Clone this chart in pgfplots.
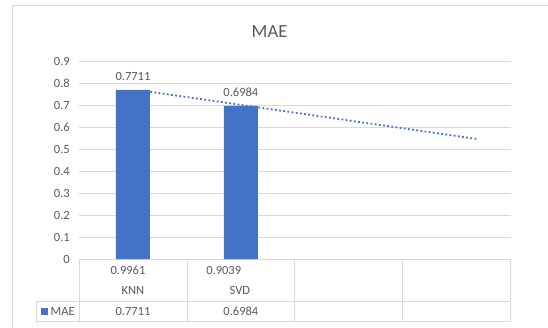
\documentclass[border=0pt]{standalone}
\usepackage{fontspec}
\setmainfont{Carlito}
\usepackage{pgfplots}
\pgfplotsset{compat=1.18}
\definecolor{barblue}{HTML}{4472C4}
\definecolor{txtgray}{HTML}{595959}
\definecolor{linegray}{HTML}{D9D9D9}
\newcommand{\tfont}{\fontsize{12.5bp}{15bp}\selectfont}
\begin{document}
\begin{tikzpicture}
\useasboundingbox (0,0) rectangle (548bp,-328bp);
\fill[white] (0,0) rectangle (548bp,-328bp);
% chart border
\draw[linegray, line width=1bp] (12bp,-340bp) -- (12bp,-5.7bp) -- (560bp,-5.7bp);
% title
\node[txtgray, font=\fontsize{18.5bp}{22bp}\selectfont] at (269.5bp,-31.7bp) {MAE};
\begin{axis}[
  at={(79bp,-259.2bp)}, anchor=south west,
  scale only axis, width=431.7bp, height=197.5bp,
  xmin=0.5, xmax=4.5, ymin=0, ymax=0.9,
  axis line style={draw=none},
  xtick=\empty,
  ytick={0,0.1,0.2,0.3,0.4,0.5,0.6,0.7,0.8,0.9},
  ymajorgrids, grid style={linegray, line width=1bp},
  major tick length=0pt,
  /pgf/number format/assume math mode=true,
  yticklabel style={font=\tfont, text=txtgray, anchor=east, inner sep=0pt, xshift=-9bp,
    /pgf/number format/fixed, /pgf/number format/precision=1},
  clip=false,
]
\addplot[ybar, bar width=34bp, fill=barblue, draw=none,
  nodes near coords,
  every node near coord/.append style={font=\tfont, text=txtgray, anchor=south, inner sep=0pt, yshift=9.5bp,
    /pgf/number format/fixed, /pgf/number format/precision=4}]
  coordinates {(1,0.7711) (2,0.6984)};
\addplot[barblue, line width=1.8bp, dash pattern=on 1.8bp off 2.4bp]
  coordinates {(1.16,0.763) (4.2,0.547)};
% data table text
\node[txtgray, font=\tfont] at (axis cs:1,0) [xshift=-5bp, yshift=-11.5bp] {0.9961};
\node[txtgray, font=\tfont] at (axis cs:1,0) [yshift=-31.5bp] {KNN};
\node[txtgray, font=\tfont] at (axis cs:2,0) [xshift=-17.2bp, yshift=-11.5bp] {0.9039};
\node[txtgray, font=\tfont] at (axis cs:2,0) [xshift=-1bp, yshift=-31.5bp] {SVD};
\node[txtgray, font=\tfont] at (axis cs:1,0) [yshift=-51.8bp] {0.7711};
\node[txtgray, font=\tfont] at (axis cs:2,0) [yshift=-51.8bp] {0.6984};
\end{axis}
% table grid
\draw[linegray, line width=1bp] (36bp,-301bp) -- (511bp,-301bp);
\draw[linegray, line width=1bp] (36bp,-321.7bp) -- (511bp,-321.7bp);
\draw[linegray, line width=1bp] (36bp,-301bp) -- (36bp,-321.7bp);
\foreach \xx in {79,187,294,402,510.7} {
  \draw[linegray, line width=1bp] (\xx bp,-259.2bp) -- (\xx bp,-321.7bp);
}
% legend key in table
\fill[barblue] (40.7bp,-308bp) rectangle (47.7bp,-314.5bp);
\node[txtgray, font=\tfont, anchor=west, inner sep=0pt] at (50.5bp,-311.2bp) {MAE};
\end{tikzpicture}
\end{document}
